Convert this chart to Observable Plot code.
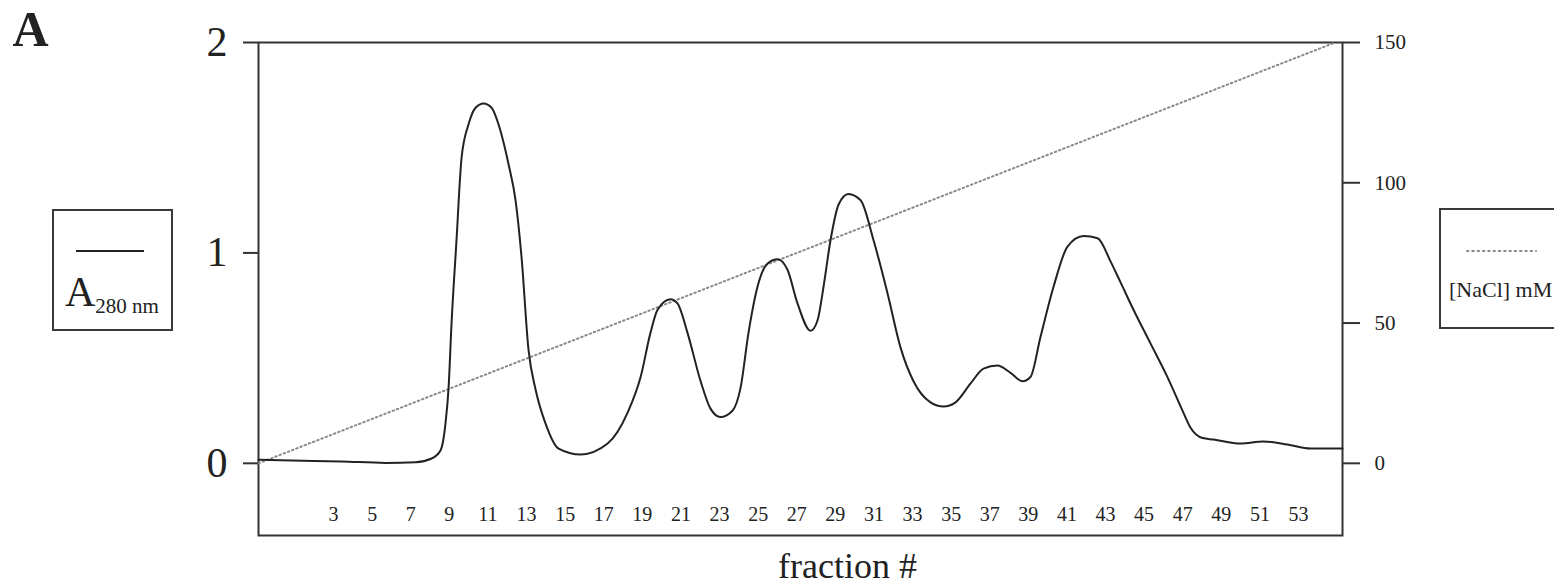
<!DOCTYPE html>
<html>
<head>
<meta charset="utf-8">
<script src="https://cdn.jsdelivr.net/npm/d3@7"></script>
<script src="https://cdn.jsdelivr.net/npm/@observablehq/plot@0.6"></script>
<style>
  html, body { margin: 0; padding: 0; background: #fff; overflow: hidden; }
  #wrap { position: relative; width: 1554px; height: 587px; font-family: "Liberation Serif", "Times New Roman", serif; color: #222; }
  .legend { position: absolute; border: 2px solid #3a3a3a; box-sizing: border-box; background: #fff; }
  .legend svg { position: absolute; left: 0; top: 0; overflow: visible; }
</style>
</head>
<body>
<div id="wrap"></div>
<script>
// Elution profile: absorbance at 280 nm per fraction
const fraction = [-0.89, 0.82, 3.41, 5.69, 7.25, 8.08, 8.54, 8.80, 8.96, 9.11, 9.37, 9.63, 9.99, 10.36, 10.77, 11.19, 11.55, 12.07, 12.43, 12.74, 13.10, 13.47, 13.98, 14.66,
  15.80, 17.20, 18.23, 18.91, 19.42, 19.79, 20.46, 20.82, 21.34, 22.02, 22.53, 23.05, 23.67, 24.09, 24.50, 24.97, 25.49, 26.01, 26.52, 27.04, 27.72, 28.08, 28.39, 28.75, 29.17,
  29.68, 30.31, 30.98, 31.70, 32.38, 33.05, 33.93, 34.61, 35.23, 36.01, 36.68, 37.40, 38.08, 38.70, 39.11, 39.63, 40.31, 41.03, 41.86, 42.59, 43.26, 43.78,
  44.45, 45.33, 46.21, 47.04, 47.40, 48.03, 48.60, 50.00, 51.19, 52.43, 53.62, 55.28];
const a280 = [0.017, 0.013, 0.009, 0.002, 0.005, 0.023, 0.061, 0.19, 0.36, 0.66, 1.06, 1.45, 1.61, 1.69, 1.71, 1.69, 1.61, 1.42, 1.25, 0.98, 0.54, 0.35, 0.19, 0.07,
  0.042, 0.094, 0.24, 0.41, 0.62, 0.73, 0.78, 0.76, 0.62, 0.39, 0.26, 0.22, 0.25, 0.36, 0.62, 0.84, 0.95, 0.97, 0.92, 0.76, 0.63, 0.68, 0.84, 1.06, 1.23,
  1.28, 1.25, 1.06, 0.81, 0.55, 0.39, 0.29, 0.27, 0.29, 0.38, 0.45, 0.465, 0.43, 0.39, 0.41, 0.60, 0.84, 1.03, 1.08, 1.07, 0.96, 0.86,
  0.73, 0.57, 0.41, 0.24, 0.17, 0.12, 0.113, 0.094, 0.104, 0.089, 0.070, 0.070];

// Linear NaCl gradient (mM)
const gradientFraction = [-0.89, 54.9];
const gradientNaCl = [0, 150];

// Axis ticks
const absTicks = [0, 1, 2];
const naclTicks = [0, 50, 100, 150];
const fractionTicks = [3, 5, 7, 9, 11, 13, 15, 17, 19, 21, 23, 25, 27, 29, 31, 33, 35, 37, 39, 41, 43, 45, 47, 49, 51, 53];

// 150 mM spans the same height as 2 absorbance units
const naclPerUnit = 75;

const trace = fraction.map((f, i) => ({f, a: a280[i]}));
const gradient = gradientFraction.map((f, i) => ({f, a: gradientNaCl[i] / naclPerUnit}));

const serif = '"Liberation Serif", "Times New Roman", serif';

const chart = Plot.plot({
  width: 1554,
  height: 587,
  marginLeft: 258,
  marginRight: 212,
  marginTop: 42,
  marginBottom: 52,
  x: {domain: [-0.89, 55.28]},
  y: {domain: [-0.343, 2]},
  style: {fontFamily: serif, color: "#222", background: "transparent", overflow: "visible"},
  marks: [
    Plot.frame({stroke: "#333", strokeWidth: 2}),
    Plot.line(gradient, {x: "f", y: "a", stroke: "#8a8a8a", strokeWidth: 2, strokeDasharray: "1.5 3", strokeLinecap: "round"}),
    Plot.line(trace, {x: "f", y: "a", stroke: "#222", strokeWidth: 2, curve: "monotone-x"}),
    Plot.axisY({ticks: absTicks, tickFormat: d => String(d), tickSize: 15, tickPadding: 16, fontSize: 42, label: null, strokeWidth: 2, stroke: "#333"}),
    Plot.axisY({anchor: "right", ticks: naclTicks.map(v => v / naclPerUnit), tickFormat: d => String(Math.round(d * naclPerUnit)),
      tickSize: 17, tickPadding: 15, fontSize: 21, label: null, strokeWidth: 2, stroke: "#333"}),
    Plot.axisX({ticks: fractionTicks, tickFormat: d => String(d), tickSize: 0, tickPadding: 0, dy: -29, fontSize: 20, label: null}),
    Plot.text(["fraction #"], {text: d => d, frameAnchor: "bottom", dx: 47, dy: 42, lineAnchor: "bottom", fontSize: 36}),
    Plot.text(["A"], {text: d => d, frameAnchor: "top-left", textAnchor: "start", lineAnchor: "bottom", dx: -246, dy: 3, fontSize: 50, fontWeight: "bold"})
  ]
});

const wrap = document.getElementById("wrap");
wrap.appendChild(chart);

// Series keys
const keyA = document.createElement("div");
keyA.className = "legend";
keyA.style.cssText = "left:52px;top:209px;width:121px;height:122px";
keyA.innerHTML = `<svg width="117" height="118">
  <line x1="22" y1="40" x2="90" y2="40" stroke="#222" stroke-width="2"/>
  <text x="11" y="95" font-family='${serif}' font-size="42" fill="#222">A<tspan font-size="21" dy="7">280 nm</tspan></text>
</svg>`;
wrap.appendChild(keyA);

const keyN = document.createElement("div");
keyN.className = "legend";
keyN.style.cssText = "left:1439px;top:208px;width:130px;height:121px";
keyN.innerHTML = `<svg width="126" height="117">
  <line x1="26" y1="41" x2="95" y2="41" stroke="#8a8a8a" stroke-width="2" stroke-dasharray="1.5 3.8" stroke-linecap="round"/>
  <text x="8" y="87" font-family='${serif}' font-size="22" fill="#222">[NaCl] mM</text>
</svg>`;
wrap.appendChild(keyN);
</script>
</body>
</html>
